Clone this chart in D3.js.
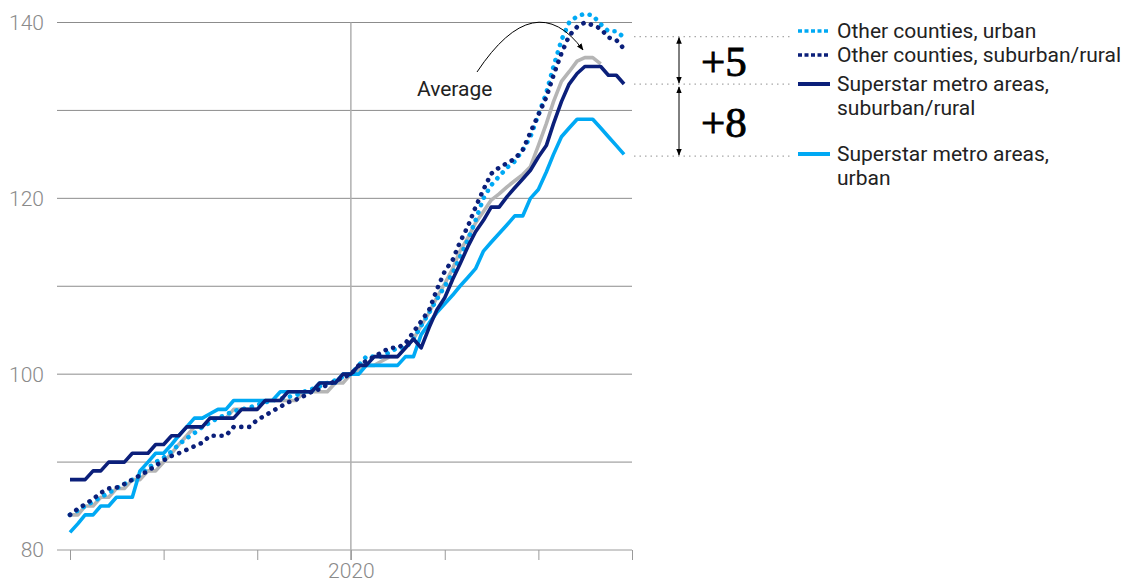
<!DOCTYPE html>
<html>
<head>
<meta charset="utf-8">
<script src="https://cdn.jsdelivr.net/npm/d3@7"></script>
<style>
body { margin: 0; background: #fff; }
text { font-family: Roboto, "Liberation Sans", sans-serif; }
</style>
</head>
<body>
<div id="chart"></div>
<script>
// monthly index, Jan 2020 = 100, Jan 2017 .. Dec 2022
var startYear = 2017;
var yearTicks = [2017, 2018, 2019, 2020, 2021, 2022, 2023];
var labelledYears = [2020];
var yLabels = [80, 100, 120, 140];
var gridValues = [90, 100, 110, 120, 130, 140];

var superstarSuburban = [88,88,88,89,89,90,90,90,91,91,91,92,92,93,93,94,94,94,95,95,95,95,96,96,96,97,97,97,98,98,98,98,99,99,99,100,100,101,101,102,102,102,102,
  103,104,103,105.3,107.3,108.7,110.8,112.5,114.5,116.2,117.5,119,119,120.2,121.2,122.2,123.2,124.7,126,128.5,131,133,134.2,135,135,135,134,134,133];
var superstarUrban = [82,83,84,84,85,85,86,86,86,89,90,91,91,92,93,94,95,95,95.5,96,96,97,97,97,97,97,97,98,98,98,98,98,99,99,99,100,100,100,101,101,101,101,101,
  102,102,104.5,105.8,107,108,109,110,111,112,114,115,116,117,118,118,120,121,123,125,127,128,129,129,129,128,127,126,125];
var average = [84,84,85,85,86,86,87,87,88,88,89,89,90,91,92,93,94,94,95,95,95,96,96,96,96,97,97,97,97,97,98,98,98,98,99,99,100,100.5,101,101,101.5,102,102,
  103,104,105.5,107,108.7,110.3,112,114,115.5,117.2,118.5,119.8,120.5,121.3,122,122.7,123.6,126,128.5,131,133.3,134.4,135.6,136,136,135.3];
var otherUrban = [84,84.5,85,85.5,86,86.5,87,87.5,88,88.5,89.3,90,90.5,91.2,92,92.7,93.3,94,94.5,95,95.4,95.8,96,96.2,96.5,96.8,97,97.2,97.4,97.6,98,98.3,98.6,99,99.3,99.7,
  100,101,102,102,102,102.5,103,103,104,105.5,107,108.5,110,111.5,113.3,115.3,117.5,120,121.5,122.5,123.5,124.2,125.5,127,129.5,132,135,138,140,140.7,141,140.8,139.8,139,139,138.3];
var otherSuburban = [84,84.7,85.2,85.8,86.5,87,87.1,87.5,88,88.5,89,89.6,90.2,90.7,91,91.4,91.8,92.2,93,93,93,94,94,94,94.8,95.3,95.8,96.3,96.8,97.1,97.5,98,98.3,98.8,99.2,99.6,
  100,101,101.5,102,102.5,103,103,103.5,104.8,106,107.3,109.6,111.7,113,115,116.8,119,121,122.8,123.5,124,124.5,125.5,127.5,129.5,131.5,134,136.5,138.5,139.5,140,139.7,139.3,138.3,138,137];

var legendNames = [["Other counties, urban"], ["Other counties, suburban/rural"],
  ["Superstar metro areas,", "suburban/rural"], ["Superstar metro areas,", "urban"]];
var gapLevels = [138.4, 133, 124.8];
var gapLabels = ["+5", "+8"];

var navy = "#0b1f7a", cyan = "#00a9f4", grey = "#b5b5b5";

var w = 1135, h = 584;
var svg = d3.select("#chart").append("svg")
  .attr("width", w).attr("height", h);

var defs = svg.append("defs");
defs.append("marker").attr("id", "head")
  .attr("viewBox", "0 0 10 10").attr("refX", 9).attr("refY", 5)
  .attr("markerWidth", 7).attr("markerHeight", 7).attr("orient", "auto-start-reverse")
  .append("path").attr("d", "M0,1 L10,5 L0,9 z").attr("fill", "#000");

var x = d3.scaleTime()
  .domain([new Date(startYear, 0, 1), new Date(2023, 0, 1)])
  .range([70, 632]);
var y = d3.scaleLinear().domain([80, 140]).range([550, 22.5]);

function monthDate(i) { return new Date(startYear, i, 1); }

// grid
svg.selectAll(".grid").data(gridValues).enter().append("line")
  .attr("x1", 57).attr("x2", 632)
  .attr("y1", function(d) { return y(d); }).attr("y2", function(d) { return y(d); })
  .attr("stroke", "#8c8c8c").attr("stroke-width", 1);

svg.append("line").attr("x1", 57).attr("x2", 632).attr("y1", y(80)).attr("y2", y(80))
  .attr("stroke", "#9a9a9a").attr("stroke-width", 1);

svg.append("line")
  .attr("x1", x(new Date(2020, 0, 1))).attr("x2", x(new Date(2020, 0, 1)))
  .attr("y1", y(140)).attr("y2", y(80) + 10)
  .attr("stroke", "#b0b0b0").attr("stroke-width", 1.5);

var xAxis = d3.axisBottom(x)
  .tickValues(yearTicks.map(function(yr) { return new Date(yr, 0, 1); }))
  .tickSize(10)
  .tickFormat(function(d) {
    return labelledYears.indexOf(d.getFullYear()) >= 0 ? d.getFullYear() : "";
  });
var gx = svg.append("g").attr("transform", "translate(0," + y(80) + ")").call(xAxis);
gx.select(".domain").remove();
gx.selectAll(".tick line").attr("stroke", "#9a9a9a");
gx.selectAll(".tick text").attr("fill", "#8a8a8a").attr("font-size", 21)
  .attr("font-weight", 300).attr("y", 28).attr("dy", null)
  .style("font-family", "Roboto, sans-serif");

svg.selectAll(".ylab").data(yLabels).enter().append("text")
  .attr("x", 44).attr("y", function(d) { return y(d); }).attr("dy", "0.35em")
  .attr("text-anchor", "end").attr("fill", "#8a8a8a")
  .attr("font-size", 21).attr("font-weight", 300)
  .text(function(d) { return d; });

// lines
var line = d3.line()
  .x(function(d, i) { return x(monthDate(i)); })
  .y(function(d) { return y(d); });

var series = [
  { values: average, color: grey, dotted: false },
  { values: superstarUrban, color: cyan, dotted: false },
  { values: otherUrban, color: cyan, dotted: true },
  { values: otherSuburban, color: navy, dotted: true },
  { values: superstarSuburban, color: navy, dotted: false }
];

series.forEach(function(s) {
  var p = svg.append("path").datum(s.values)
    .attr("d", line).attr("fill", "none")
    .attr("stroke", s.color).attr("stroke-linejoin", "round");
  if (s.dotted) {
    p.attr("stroke-width", 4.6).attr("stroke-linecap", "round")
      .attr("stroke-dasharray", "0.1 7.8");
  } else {
    p.attr("stroke-width", 3.6);
  }
});

// gap annotation
var gapX = 679;
svg.selectAll(".gapline").data(gapLevels).enter().append("line")
  .attr("x1", 634).attr("x2", 790)
  .attr("y1", function(d) { return y(d); }).attr("y2", function(d) { return y(d); })
  .attr("stroke", "#a8a8a8").attr("stroke-width", 1.2).attr("stroke-dasharray", "1.5 4");

gapLabels.forEach(function(lbl, i) {
  var y0 = y(gapLevels[i]) + 1, y1 = y(gapLevels[i + 1]) - 1;
  if (i > 0) y0 += 2;
  svg.append("line").attr("x1", gapX).attr("x2", gapX).attr("y1", y0).attr("y2", y1)
    .attr("stroke", "#000").attr("stroke-width", 1)
    .attr("marker-start", "url(#head)").attr("marker-end", "url(#head)");
  svg.append("text").attr("x", 701).attr("y", (y0 + y1) / 2).attr("dy", "0.36em")
    .style("font-family", "'Liberation Serif', 'DejaVu Serif', serif")
    .attr("font-size", 43).attr("fill", "#000")
    .attr("stroke", "#000").attr("stroke-width", 0.9).text(lbl);
});

// average label + arrow
svg.append("text").attr("x", 417).attr("y", 89).attr("dy", "0.35em")
  .attr("font-size", 21).attr("fill", "#222").text("Average");
svg.append("path").attr("d", "M477,72 Q535,-15 583,50")
  .attr("fill", "none").attr("stroke", "#000").attr("stroke-width", 1)
  .attr("marker-end", "url(#head)");

// legend
var legendRows = [31, 55, 84, 154];
var legendStyles = [series[2], series[3], series[4], series[1]];
legendNames.forEach(function(lines, i) {
  var ly = legendRows[i];
  var s = legendStyles[i];
  var l = svg.append("line").attr("x1", 798).attr("x2", 830).attr("y1", ly).attr("y2", ly)
    .attr("stroke", s.color).attr("stroke-width", 4);
  if (s.dotted) l.attr("stroke-dasharray", "4 2.5").attr("stroke-width", 3.6);
  lines.forEach(function(t, j) {
    svg.append("text").attr("x", 837).attr("y", ly + j * 24).attr("dy", "0.35em")
      .attr("font-size", 21).attr("fill", "#222").text(t);
  });
});
</script>
</body>
</html>
